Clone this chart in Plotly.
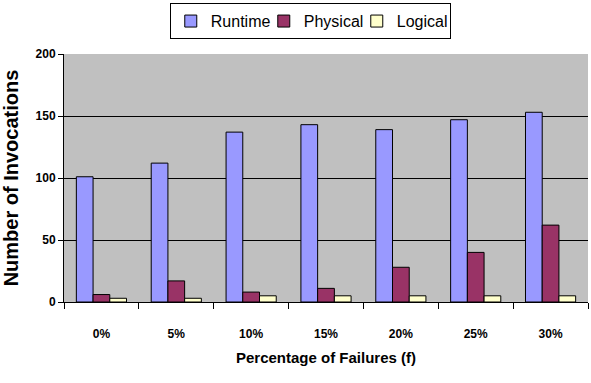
import plotly.graph_objects as go

categories = ["0%", "5%", "10%", "15%", "20%", "25%", "30%"]
runtime = [101, 112, 137, 143, 139, 147, 153]
physical = [6, 17, 8, 11, 28, 40, 62]
logical = [3, 3, 5, 5, 5, 5, 5]

series = [
    ("Runtime", runtime, "#9999FF"),
    ("Physical", physical, "#993366"),
    ("Logical", logical, "#FFFFCC"),
]

fig = go.Figure()
for name, vals, color in series:
    fig.add_trace(go.Bar(
        x=categories, y=vals, name=name,
        marker=dict(color=color, line=dict(color="black", width=1)),
    ))

font_family = "Liberation Sans, Arial, sans-serif"

fig.update_layout(
    width=591, height=383,
    margin=dict(l=64, r=3, t=52, b=81),
    paper_bgcolor="white",
    plot_bgcolor="#C0C0C0",
    barmode="group",
    bargap=0.33,
    bargroupgap=0,
    font=dict(family=font_family, color="black"),
    legend=dict(
        orientation="h",
        x=0.47, xanchor="center",
        y=1.205, yanchor="top",
        bordercolor="black", borderwidth=1,
        bgcolor="white",
        font=dict(size=16),
        itemwidth=30,
        entrywidth=48,
        entrywidthmode="pixels",
        traceorder="normal",
    ),
    xaxis=dict(
        showgrid=False,
        ticks="outside", ticklen=6, tickcolor="black",
        tickson="boundaries",
        showline=True, linecolor="black", linewidth=1,
        tickfont=dict(size=12, weight="bold"),
        ticklabelstandoff=21,
        title=dict(text="<b>Percentage of Failures (f)</b>", font=dict(size=15), standoff=12),
    ),
    yaxis=dict(
        range=[0, 200],
        tickvals=[0, 50, 100, 150, 200],
        showgrid=True, gridcolor="black", gridwidth=1,
        ticks="outside", ticklen=5, tickcolor="black",
        showline=True, linecolor="black", linewidth=1,
        zeroline=False,
        tickfont=dict(size=12, weight="bold"),
        title=dict(text="<b>Number of Invocations</b>", font=dict(size=20), standoff=12),
    ),
)

fig.write_html("out.html")
